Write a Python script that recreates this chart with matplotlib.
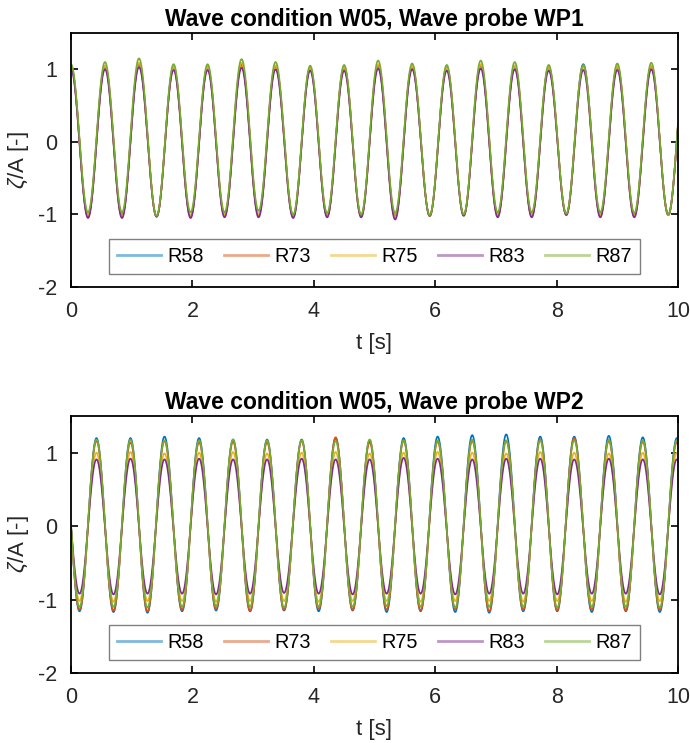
import numpy as np
import matplotlib
matplotlib.use('Agg')
import matplotlib.pyplot as plt

plt.rcParams['font.family'] = ['Liberation Sans', 'DejaVu Sans']
plt.rcParams['mathtext.fontset'] = 'custom'
plt.rcParams['mathtext.rm'] = 'Liberation Sans'
plt.rcParams['mathtext.it'] = 'Liberation Sans:italic'
plt.rcParams['axes.unicode_minus'] = False

# series names and colours (MATLAB default order)
runs = ['R58', 'R73', 'R75', 'R83', 'R87']
colors = ['#0072BD', '#D95319', '#EDB120', '#7E2F8E', '#77AC30']

# ---- WP1: crest / trough times [s]
wp1_crest_t = [0.00, 0.56, 1.12, 1.69, 2.25, 2.81, 3.37, 3.94, 4.50, 5.06,
               5.62, 6.19, 6.75, 7.31, 7.87, 8.44, 9.00, 9.56, 10.12]
wp1_trough_t = [0.28, 0.84, 1.41, 1.97, 2.53, 3.09, 3.66, 4.22, 4.78, 5.34,
                5.91, 6.47, 7.03, 7.59, 8.16, 8.72, 9.28, 9.84]

wp1_crest = {
    'R58': [1.04, 1.05, 1.08, 1.03, 1.03, 1.07, 1.05, 1.02, 1.03, 1.06, 1.04, 1.03, 1.06, 1.05, 1.03, 1.07, 1.04, 1.05, 1.02],
    'R73': [1.03, 1.04, 1.07, 1.02, 1.02, 1.06, 1.04, 1.01, 1.02, 1.05, 1.03, 1.02, 1.05, 1.04, 1.02, 1.04, 1.03, 1.04, 1.02],
    'R75': [1.03, 1.05, 1.09, 1.03, 1.03, 1.09, 1.05, 1.02, 1.03, 1.07, 1.04, 1.02, 1.07, 1.05, 1.03, 1.04, 1.04, 1.05, 1.02],
    'R83': [1.00, 1.00, 1.03, 0.99, 0.99, 1.02, 1.00, 0.98, 0.98, 1.01, 1.00, 0.98, 1.01, 1.00, 0.98, 0.99, 0.99, 1.00, 1.00],
    'R87': [1.07, 1.10, 1.15, 1.07, 1.07, 1.14, 1.10, 1.05, 1.06, 1.12, 1.08, 1.06, 1.12, 1.10, 1.06, 1.06, 1.08, 1.09, 1.05],
}
wp1_trough = {
    'R58': [-1.02, -1.02, -1.03, -1.02, -1.01, -1.00, -1.03, -1.02, -1.02, -1.03, -1.02, -1.01, -1.01, -1.01, -1.00, -1.01, -1.01, -1.01],
    'R73': [-1.03, -1.02, -1.03, -1.03, -1.02, -1.01, -1.03, -1.02, -1.02, -1.04, -1.02, -1.01, -1.02, -1.02, -1.00, -1.02, -1.02, -1.01],
    'R75': [-1.01, -1.03, -1.03, -1.02, -1.01, -1.00, -1.02, -1.01, -1.03, -1.04, -1.02, -1.01, -1.01, -1.01, -1.00, -1.01, -1.02, -1.01],
    'R83': [-1.05, -1.05, -1.03, -1.05, -1.04, -1.04, -1.05, -1.04, -1.04, -1.07, -1.02, -1.02, -1.04, -1.04, -1.01, -1.04, -1.04, -1.00],
    'R87': [-0.97, -0.97, -1.02, -0.97, -0.97, -0.95, -1.00, -0.98, -1.00, -0.98, -1.01, -1.00, -0.97, -0.97, -0.99, -0.97, -0.98, -1.00],
}

# ---- WP2
wp2_crest_t = [-0.14, 0.42, 0.98, 1.54, 2.11, 2.67, 3.23, 3.80, 4.36, 4.92,
               5.48, 6.04, 6.61, 7.17, 7.73, 8.29, 8.86, 9.42, 9.98]
wp2_trough_t = [0.14, 0.70, 1.26, 1.83, 2.39, 2.95, 3.51, 4.08, 4.64, 5.20,
                5.76, 6.33, 6.89, 7.45, 8.01, 8.58, 9.14, 9.70, 10.26]

wp2_crest = {
    'R58': [1.18, 1.20, 1.20, 1.22, 1.20, 1.18, 1.18, 1.18, 1.20, 1.17, 1.20, 1.22, 1.24, 1.25, 1.22, 1.22, 1.23, 1.21, 1.20],
    'R73': [1.15, 1.16, 1.14, 1.16, 1.14, 1.15, 1.14, 1.16, 1.21, 1.14, 1.16, 1.15, 1.16, 1.16, 1.18, 1.20, 1.16, 1.15, 1.14],
    'R75': [1.00, 1.00, 1.01, 0.99, 1.00, 1.01, 0.99, 1.00, 1.01, 0.99, 1.00, 1.01, 1.00, 0.99, 1.01, 1.00, 0.99, 1.00, 1.00],
    'R83': [0.91, 0.91, 0.92, 0.91, 0.92, 0.91, 0.91, 0.92, 0.91, 0.91, 0.93, 0.92, 0.91, 0.92, 0.92, 0.91, 0.92, 0.91, 0.91],
    'R87': [1.16, 1.18, 1.18, 1.17, 1.17, 1.18, 1.17, 1.17, 1.16, 1.18, 1.17, 1.17, 1.18, 1.17, 1.17, 1.17, 1.18, 1.17, 1.17],
}
wp2_trough = {
    'R58': [-1.16, -1.17, -1.18, -1.16, -1.15, -1.16, -1.15, -1.16, -1.15, -1.17, -1.16, -1.17, -1.18, -1.16, -1.16, -1.17, -1.16, -1.17, -1.16],
    'R73': [-1.14, -1.15, -1.16, -1.14, -1.13, -1.16, -1.14, -1.13, -1.14, -1.14, -1.15, -1.13, -1.16, -1.14, -1.15, -1.14, -1.15, -1.14, -1.14],
    'R75': [-1.02, -1.03, -1.02, -1.02, -1.03, -1.02, -1.02, -1.03, -1.02, -1.02, -1.03, -1.02, -1.02, -1.03, -1.02, -1.02, -1.03, -1.02, -1.02],
    'R83': [-0.92, -0.93, -0.92, -0.92, -0.93, -0.92, -0.91, -0.92, -0.93, -0.92, -0.92, -0.93, -0.92, -0.92, -0.93, -0.92, -0.92, -0.93, -0.92],
    'R87': [-1.10, -1.10, -1.11, -1.10, -1.09, -1.10, -1.11, -1.10, -1.10, -1.09, -1.10, -1.11, -1.10, -1.10, -1.11, -1.10, -1.10, -1.11, -1.10],
}


def wave_trace(crest_t, crest_v, trough_t, trough_v, t):
    # half-cosine between successive extrema
    tt = np.array(list(crest_t) + list(trough_t))
    vv = np.array(list(crest_v) + list(trough_v))
    order = np.argsort(tt)
    tt, vv = tt[order], vv[order]
    y = np.zeros_like(t)
    for i in range(len(tt) - 1):
        m = (t >= tt[i]) & (t <= tt[i + 1])
        ph = (t[m] - tt[i]) / (tt[i + 1] - tt[i])
        y[m] = 0.5 * (vv[i] + vv[i + 1]) + 0.5 * (vv[i] - vv[i + 1]) * np.cos(np.pi * ph)
    return y


txtcol = '#262626'

fig = plt.figure(figsize=(6.9, 7.43), dpi=100)
ax1 = fig.add_axes([0.1029, 0.6137, 0.8797, 0.3419])
ax2 = fig.add_axes([0.1029, 0.0942, 0.8797, 0.3459])

t = np.linspace(0, 10, 4001)

panels = [(ax1, 'WP1', wp1_crest_t, wp1_crest, wp1_trough_t, wp1_trough),
          (ax2, 'WP2', wp2_crest_t, wp2_crest, wp2_trough_t, wp2_trough)]

for ax, probe, ct, cv, tt_, tv in panels:
    for name, col in zip(runs, colors):
        y = wave_trace(ct, cv[name], tt_, tv[name], t)
        ax.plot(t, y, color=col, lw=1.2, label=name)
    ax.set_xlim(0, 10)
    ax.set_ylim(-2, 1.5)
    ax.set_xticks([0, 2, 4, 6, 8, 10])
    ax.set_yticks([-2, -1, 0, 1])
    ax.tick_params(direction='in', top=True, right=True, length=5, width=1.2,
                   labelsize=15.5, labelcolor=txtcol)
    ax.tick_params(axis='x', pad=10)
    ax.tick_params(axis='y', pad=10)
    for sp in ax.spines.values():
        sp.set_linewidth(1.3)
    ax.set_xlabel('t [s]', fontsize=16, color=txtcol, labelpad=8)
    ax.set_ylabel(r'$\zeta$/A [-]', fontsize=16, color=txtcol, labelpad=5)
    ax.set_title('Wave condition W05, Wave probe ' + probe, fontsize=16.5,
                 fontweight='bold', pad=5)
    leg = ax.legend(loc='lower center', bbox_to_anchor=(0.5, 0.05), ncol=5,
                    fontsize=14.3, frameon=True, fancybox=False,
                    handlelength=2.2, handletextpad=0.35, columnspacing=1.0,
                    borderpad=0.4, borderaxespad=0)
    leg.get_frame().set_edgecolor('#606060')
    leg.get_frame().set_linewidth(1.0)
    for h in leg.get_lines():
        h.set_alpha(0.5)
        h.set_linewidth(2.0)

fig.savefig('out.png', dpi=100, facecolor='white')
